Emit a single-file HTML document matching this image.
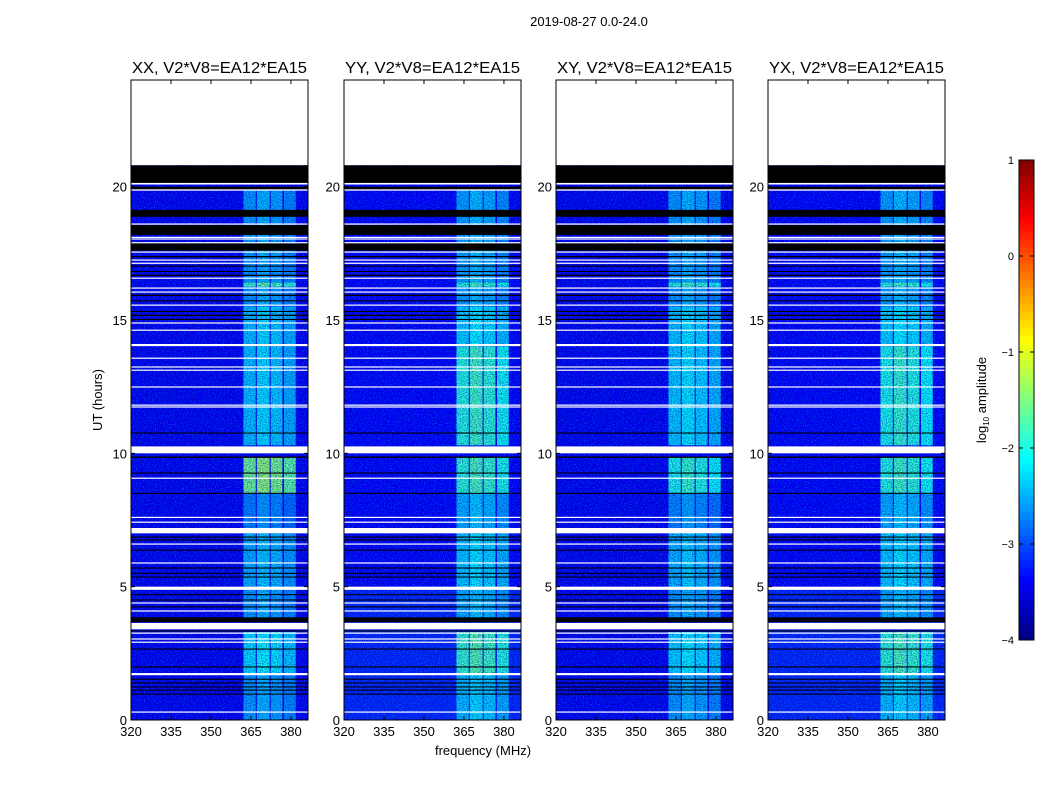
<!DOCTYPE html>
<html><head><meta charset="utf-8"><style>
body{margin:0;background:#fff;}
svg{display:block;font-family:"Liberation Sans","DejaVu Sans",sans-serif;}
</style></head><body>
<svg id="fig" width="1050" height="800" viewBox="0 0 1050 800" xmlns="http://www.w3.org/2000/svg">
<defs>
<filter id="speck" x="0" y="0" width="100%" height="100%">
<feTurbulence type="fractalNoise" baseFrequency="0.9 0.7" numOctaves="1" seed="3"/>
<feColorMatrix type="matrix" values="0 0 0 0 0  0 0 0 0 0.75  0 0 0 0 1  2.6 0 0 0 -1.25"/>
</filter>
<filter id="dark" x="0" y="0" width="100%" height="100%">
<feTurbulence type="fractalNoise" baseFrequency="0.8 0.9" numOctaves="1" seed="11"/>
<feColorMatrix type="matrix" values="0 0 0 0 0  0 0 0 0 0  0 0 0 0 0.4  2.2 0 0 0 -0.85"/>
</filter>
</defs>
<text x="589" y="26" font-size="13" text-anchor="middle">2019-08-27 0.0-24.0</text>
<text x="483" y="755" font-size="13" text-anchor="middle">frequency (MHz)</text>
<text transform="translate(102,400) rotate(-90)" font-size="13" text-anchor="middle">UT (hours)</text>
</svg>
<script>
// ---- data ----
const panelTitles = ["XX, V2*V8=EA12*EA15","YY, V2*V8=EA12*EA15","XY, V2*V8=EA12*EA15","YX, V2*V8=EA12*EA15"];
const xTicks = [320,335,350,365,380];
const yTicks = [0,5,10,15,20];
const cbTicks = [1,0,-1,-2,-3,-4];
const dataTop = 20.8;
// RFI sub-bands [fStart, fEnd, weight]
const rfiBands = [[362.2,366.8,0.0],[367.2,372,0.15],[372.4,376.8,0.05],[377.4,381.8,-0.1]];
// background level per time segment [t0, t1, log10 amp] per panel
const baseP1 = [[0,20.8,-3.45]];
const baseP2 = [[0,4.9,-3.2],[4.9,20.8,-3.4]];
const baseP3 = [[0,20.8,-3.45]];
const baseP4 = [[0,4.9,-3.2],[4.9,20.8,-3.4]];
// RFI levels per time segment [t0, t1, log10 amp]
const rfiP1 = [[0,1.7,-2.6],[1.7,3.3,-2.25],[3.7,4.9,-2.6],[4.9,7.0,-2.5],[7.0,8.5,-2.75],[8.5,9.85,-1.55],[10.3,15.5,-2.4],[15.5,19.9,-2.6],[16.25,16.4,-1.8]];
const rfiP2 = [[0,1.7,-2.4],[1.7,3.3,-1.85],[3.7,4.9,-2.5],[4.9,7.0,-2.35],[7.0,8.5,-2.5],[8.5,9.85,-1.9],[10.3,14.0,-1.95],[14.0,15.5,-2.3],[15.5,19.9,-2.55],[16.25,16.4,-1.9]];
const rfiP3 = [[0,1.7,-2.6],[1.7,3.3,-2.3],[3.7,4.9,-2.6],[4.9,7.0,-2.45],[7.0,8.5,-2.7],[8.5,9.85,-2.0],[10.3,15.5,-2.35],[15.5,19.9,-2.6],[16.25,16.4,-1.9]];
const rfiP4 = [[0,1.7,-2.4],[1.7,3.3,-1.9],[3.7,4.9,-2.5],[4.9,7.0,-2.35],[7.0,8.5,-2.5],[8.5,9.85,-1.95],[10.3,14.0,-2.0],[14.0,15.5,-2.3],[15.5,19.9,-2.55],[16.25,16.4,-1.9]];
// flagged rows [t0, t1]
const whiteFlags = [[20.08,20.14],[19.85,19.9],[18.58,18.62],[18.08,18.12],[18.03,18.06],[17.88,17.92],[17.53,17.57],[17.23,17.27],[17.11,17.15],[16.55,16.59],[16.18,16.22],[16.03,16.07],[15.54,15.58],[14.87,14.91],[14.6,14.64],[14.02,14.1],[13.55,13.59],[13.22,13.26],[13.1,13.14],[12.47,12.51],[11.79,11.83],[11.72,11.76],[10.0,10.26],[9.05,9.09],[7.58,7.62],[7.4,7.44],[7.0,7.2],[6.58,6.62],[5.87,5.91],[4.88,5.0],[4.37,4.41],[4.07,4.11],[3.4,3.64],[3.24,3.28],[3.02,3.06],[2.9,2.94],[1.68,1.76],[0.28,0.32]];
const blackFlags = [[20.14,20.8],[19.9,20.0],[18.87,19.13],[18.19,18.56],[17.6,17.88],[17.35,17.4],[17.0,17.04],[16.8,16.84],[16.65,16.7],[15.9,15.95],[15.7,15.74],[15.3,15.34],[15.15,15.2],[15.0,15.04],[10.74,10.78],[9.83,9.88],[9.24,9.28],[8.48,8.52],[6.84,6.88],[6.73,6.77],[6.35,6.39],[5.68,5.72],[5.48,5.52],[5.34,5.38],[4.68,4.72],[4.48,4.52],[4.22,4.26],[3.67,3.85],[3.32,3.36],[2.64,2.68],[1.97,2.01],[1.51,1.55],[1.37,1.41],[1.22,1.26],[1.1,1.14],[0.95,0.99]];
const panelBase = [baseP1,baseP2,baseP3,baseP4];
const panelRfi = [rfiP1,rfiP2,rfiP3,rfiP4];
// ---- layout ----
const NS = "http://www.w3.org/2000/svg";
const svg = document.getElementById('fig');
const lefts = [131,344,556,768], PW = 177, PT = 80, PH = 640;
const fMin = 320, fMax = 386.4, tMin = 0, tMax = 24;
function jet(v){ let n=(v+4)/5; n=Math.max(0,Math.min(1,n));
 const c=x=>Math.round(255*Math.max(0,Math.min(1,x)));
 return `rgb(${c(1.5-Math.abs(4*n-3))},${c(1.5-Math.abs(4*n-2))},${c(1.5-Math.abs(4*n-1))})`; }
function mk(tag, attrs, parent){ const e=document.createElementNS(NS,tag); for(const k in attrs) e.setAttribute(k,attrs[k]); (parent||svg).appendChild(e); return e; }
lefts.forEach((L,p)=>{
 const xS = f => L + (f-fMin)/(fMax-fMin)*PW;
 const yS = t => PT + PH - (t-tMin)/(tMax-tMin)*PH;
 const g = mk('g',{});
 
 
 panelBase[p].forEach(s=>{
  const r=mk('rect',{x:L,y:yS(s[1]),width:PW,height:yS(s[0])-yS(s[1]),fill:jet(s[2])},g);
  
  
 });
 panelRfi[p].forEach(s=>{
  rfiBands.forEach(b=>{
   const r=mk('rect',{x:xS(b[0]),y:yS(s[1]),width:xS(b[1])-xS(b[0]),height:yS(s[0])-yS(s[1]),fill:jet(s[2]+b[2])},g);
   
   
  });
 });
 const n1=mk('rect',{x:L,y:yS(dataTop),width:PW,height:yS(0)-yS(dataTop),filter:'url(#speck)',opacity:0.5},g);
 
 
 const n2=mk('rect',{x:L,y:yS(dataTop),width:PW,height:yS(0)-yS(dataTop),filter:'url(#dark)',opacity:0.7},g);
 
 
 blackFlags.forEach(s=>{
  const r=mk('rect',{x:L,y:yS(s[1]),width:PW,height:Math.max(1,yS(s[0])-yS(s[1])),fill:'#000'},g);
  
  
 });
 whiteFlags.forEach(s=>{
  const r=mk('rect',{x:L,y:yS(s[1]),width:PW,height:Math.max(1.2,yS(s[0])-yS(s[1])),fill:'#fff'},g);
  
  
 });
 const fr=mk('rect',{x:L,y:PT,width:PW,height:PH,fill:'none',stroke:'#000','stroke-width':1},g);
 
 
 const tt=mk('text',{x:L+PW/2,y:PT-7,'font-size':16,'text-anchor':'middle',textLength:175,lengthAdjust:'spacingAndGlyphs'},g); tt.textContent=panelTitles[p];
 
 
 xTicks.forEach(f=>{
  const x=xS(f);
  mk('line',{x1:x,x2:x,y1:PT+PH,y2:PT+PH-4,stroke:'#000'},g);
  mk('line',{x1:x,x2:x,y1:PT,y2:PT+4,stroke:'#000'},g);
  const t=mk('text',{x:x,y:PT+PH+16,'font-size':13,'text-anchor':'middle'},g); t.textContent=f;
  
  
 });
 yTicks.forEach(v=>{
  const y=yS(v);
  mk('line',{x1:L,x2:L+4,y1:y,y2:y,stroke:'#000'},g);
  mk('line',{x1:L+PW,x2:L+PW-4,y1:y,y2:y,stroke:'#000'},g);
  const t=mk('text',{x:L-4,y:y+5,'font-size':13,'text-anchor':'end'},g); t.textContent=v;
  
  
 });
});
// colorbar
const CX=1019, CW=15, CT=160, CH=480;
const cb=mk('g',{});


const cbY = v => CT + (1-v)/5*CH;
for(let i=0;i<120;i++){ const v1=1-i*5/120, v0=1-(i+1)*5/120;
 mk('rect',{x:CX,y:cbY(v1),width:CW,height:cbY(v0)-cbY(v1)+0.5,fill:jet((v0+v1)/2)},cb); }
mk('rect',{x:CX,y:CT,width:CW,height:CH,fill:'none',stroke:'#000'},cb);
cbTicks.forEach(v=>{ const y=cbY(v);
 mk('line',{x1:CX,x2:CX+4,y1:y,y2:y,stroke:'#000'},cb);
 mk('line',{x1:CX+CW,x2:CX+CW-4,y1:y,y2:y,stroke:'#000'},cb);
 const t=mk('text',{x:CX-5,y:y+4,'font-size':11,'text-anchor':'end'},cb); t.textContent=(v<0?'\u2212'+(-v):v);
 
 
});
const cl=mk('text',{transform:'translate(986,400) rotate(-90)','font-size':13,'text-anchor':'middle'},cb);
cl.innerHTML='log<tspan font-size="8" dy="3">10</tspan><tspan dy="-3"> amplitude</tspan>';


</script>
</body></html>
